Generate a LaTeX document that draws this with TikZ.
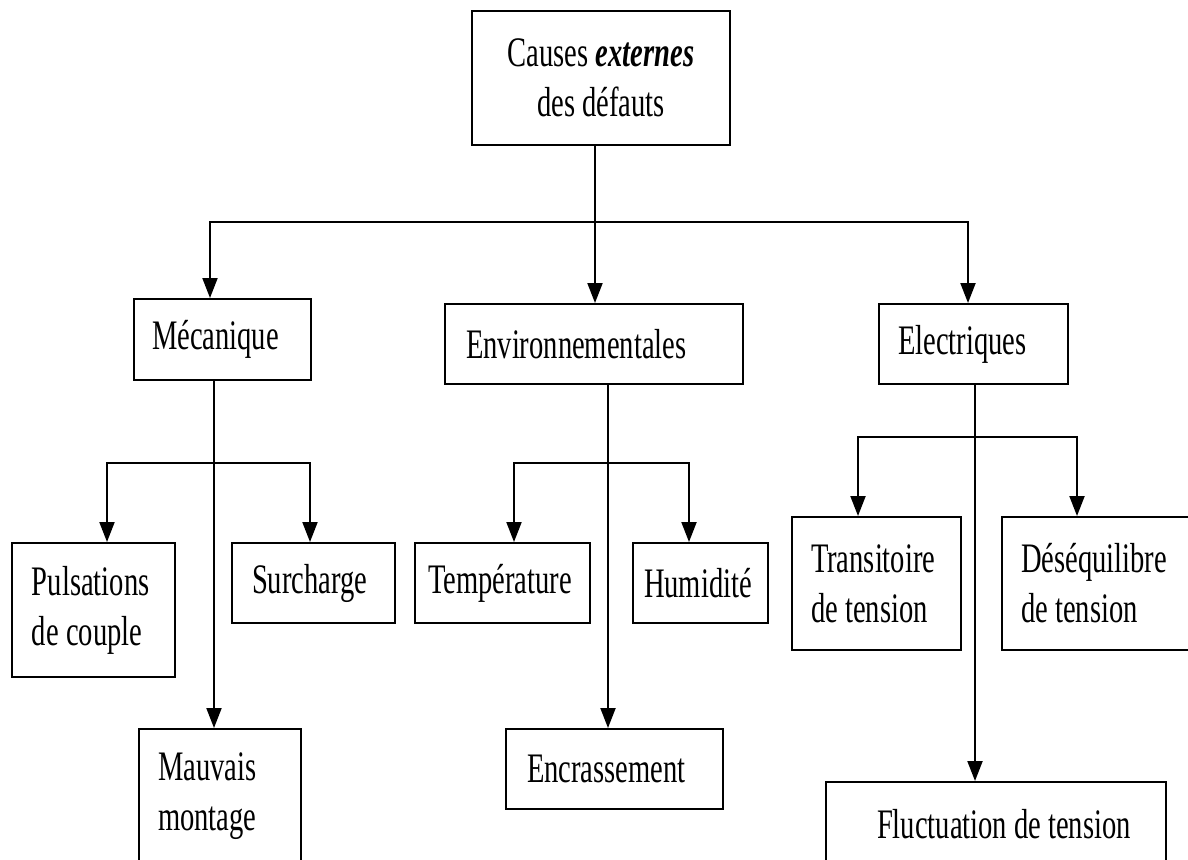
\documentclass[tikz,border=0pt]{standalone}
\usepackage{fontspec}
\setmainfont{Liberation Serif}[FakeStretch=0.68]
\usetikzlibrary{arrows.meta}
\tikzset{
  box/.style={draw, line width=1pt, rectangle, inner sep=0pt, align=flush left,
    font=\fontsize{21}{25}\selectfont},
  conn/.style={line width=1pt},
  arr/.style={line width=1pt, -{Triangle[length=10pt,width=7.5pt]}},
}
\begin{document}
\begin{tikzpicture}[x=0.5pt,y=-0.5pt]
\useasboundingbox (0,0) rectangle (1188,859);
\clip (0,0) rectangle (1188,859);

% level 0
\node[box, align=center, minimum width=129pt, minimum height=67pt] (top) at (601,78)
  {Causes \textbf{\textit{externes}}\\des défauts};

% level 1
\node[box, minimum width=88.5pt, minimum height=40.5pt, text width=70.5pt] (mec) at (222.5,339.5) {Mécanique};
\node[box, minimum width=149pt, minimum height=40pt, text width=128pt] (env) at (594,344) {Environnementales};
\node[box, minimum width=94.5pt, minimum height=40pt, text width=75.5pt] (ele) at (973.5,344) {Electriques};

% level 2 - mecanique
\node[box, minimum width=81.5pt, minimum height=67pt, text width=61.5pt] (puls) at (93.5,610) {Pulsations\\\mbox{de couple}};
\node[box, minimum width=81.5pt, minimum height=40pt, text width=61.5pt] (sur) at (313.5,583) {Surcharge};
\node[box, minimum width=81pt, minimum height=67pt, text width=62pt] (mau) at (220,796) {Mauvais\\montage};

% level 2 - environnementales
\node[box, minimum width=87.5pt, minimum height=40pt, text width=74.5pt] (tem) at (502.5,583) {Température};
\node[box, minimum width=67.5pt, minimum height=40pt, text width=56.5pt] (hum) at (700.5,583) {Humidité};
\node[box, minimum width=108.5pt, minimum height=40pt, text width=87.5pt] (enc) at (614.5,769) {Encrassement};

% level 2 - electriques
\node[box, minimum width=84.5pt, minimum height=66.5pt, text width=65.5pt] (tra) at (876.5,583.5) {Transitoire\\\mbox{de tension}};
\node[box, minimum width=104pt, minimum height=66.5pt, text width=85pt] (des) at (1106,583.5) {Déséquilibre\\\mbox{de tension}};
\node[box, minimum width=170pt, minimum height=42pt, text width=119pt] (flu) at (996,824) {\mbox{Fluctuation de tension}};

% main bus
\coordinate (bM) at (595,222);
\coordinate (bL) at (210,222);
\coordinate (bR) at (968,222);
\draw[conn] (top.south -| bM) -- (bM);
\draw[arr] (bM) -- (env.north -| bM);
\draw[arr] (bM) -- (bL) -- (mec.north -| bL);
\draw[arr] (bM) -- (bR) -- (ele.north -| bR);

% mecanique
\coordinate (mx) at (214,463);
\coordinate (mL) at (107,463);
\coordinate (mR) at (310,463);
\draw[arr] (mec.south -| mx) -- (mau.north -| mx);
\draw[arr] (mx) -- (mL) -- (puls.north -| mL);
\draw[arr] (mx) -- (mR) -- (sur.north -| mR);

% environnementales
\coordinate (ex) at (608,463);
\coordinate (eL) at (514,463);
\coordinate (eR) at (689,463);
\draw[arr] (env.south -| ex) -- (enc.north -| ex);
\draw[arr] (ex) -- (eL) -- (tem.north -| eL);
\draw[arr] (ex) -- (eR) -- (hum.north -| eR);

% electriques
\coordinate (lx) at (975,437);
\coordinate (lL) at (858,437);
\coordinate (lR) at (1077,437);
\draw[arr] (ele.south -| lx) -- (flu.north -| lx);
\draw[arr] (lx) -- (lL) -- (tra.north -| lL);
\draw[arr] (lx) -- (lR) -- (des.north -| lR);
\end{tikzpicture}
\end{document}
